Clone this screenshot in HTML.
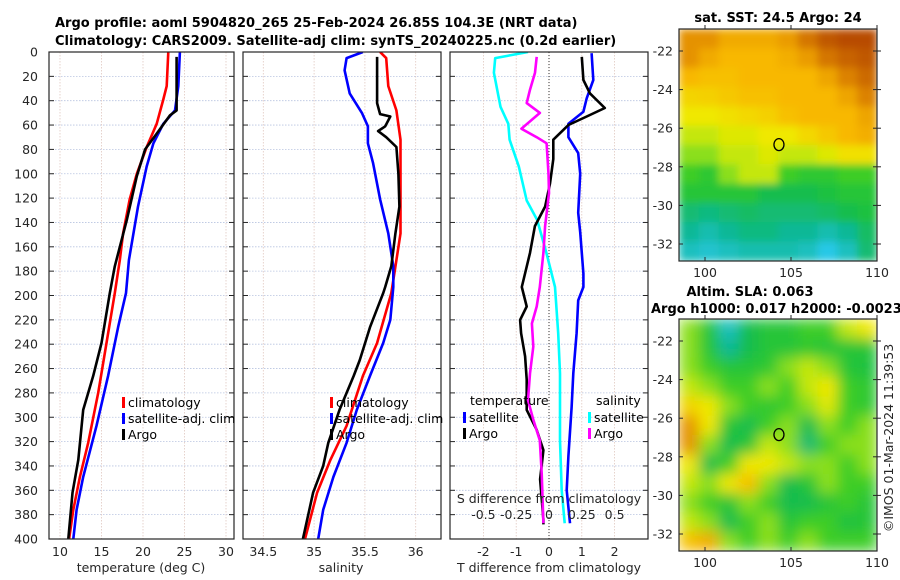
<!DOCTYPE html>
<html><head><meta charset="utf-8"><style>
html,body{margin:0;padding:0;background:#fff;}
svg{display:block;font-family:"DejaVu Sans","Liberation Sans",sans-serif;}
.tk{font-size:12.5px;fill:#262626;}
.ttl{font-size:13px;font-weight:bold;fill:#000;}
.lg{font-size:12.5px;fill:#000;}
</style></head><body>
<svg id="fig" width="900" height="580" viewBox="0 0 900 580">
<defs>
<clipPath id="cp1"><rect x="49" y="52" width="185" height="487"/></clipPath>
<clipPath id="cp2"><rect x="243" y="52" width="198" height="487"/></clipPath>
<clipPath id="cp3"><rect x="450" y="52" width="198" height="487"/></clipPath>
<clipPath id="cpm1"><rect x="679" y="29" width="198" height="232"/></clipPath>
<clipPath id="cpm2"><rect x="679" y="319" width="198" height="232"/></clipPath>
<filter id="bl1" x="0" y="0" width="1" height="1"><feGaussianBlur stdDeviation="4" edgeMode="duplicate"/></filter>
<filter id="bl2" x="0" y="0" width="1" height="1"><feGaussianBlur stdDeviation="7" edgeMode="duplicate"/></filter>
</defs>
<g id="root"></g>
<text class="ttl" x="55" y="27">Argo profile: aoml 5904820_265 25-Feb-2024 26.85S 104.3E (NRT data)</text>
<text class="ttl" x="55" y="45">Climatology: CARS2009. Satellite-adj clim: synTS_20240225.nc (0.2d earlier)</text>
<text class="ttl" x="778" y="22" text-anchor="middle">sat. SST: 24.5 Argo: 24</text>
<text class="ttl" x="750" y="296" text-anchor="middle">Altim. SLA: 0.063</text>
<text class="ttl" x="651" y="313">Argo h1000: 0.017 h2000: -0.0023</text>
<text class="tk" x="0" y="0" transform="translate(893,438) rotate(-90)" text-anchor="middle">©IMOS 01-Mar-2024 11:39:53</text>
</svg>
<script>
// ---- data ----
const depthTicks=[0,20,40,60,80,100,120,140,160,180,200,220,240,260,280,300,320,340,360,380,400];
const tempTicks=[10,15,20,25,30];
const salTicks=[34.5,35,35.5,36];
const tdiffTicks=[-2,-1,0,1,2];
const sdiffTicks=[-0.5,-0.25,0,0.25,0.5];
const sdiffTickLabels=["-0.5","-0.25","0","0.25","0.5"];

const tClimDepth=[0,28,39,59,78,100,121,149,171,198,239,280,321,349,376,400];
const tClim=[23.05,22.85,22.45,21.65,20.45,19.25,18.4,17.6,17.2,16.6,15.6,14.6,13.4,12.4,11.6,11.1];
const tSatDepth=[0,28,48,59,75,94,127,171,198,226,266,307,349,376,400];
const tSat=[24.45,24.25,23.85,22.45,21.25,20.45,19.4,18.3,17.95,17.0,15.8,14.4,12.8,12.0,11.6];
const tArgoDepth=[4,48,52,67,80,102,138,176,198,239,266,294,335,362,400];
const tArgo=[24.05,24.05,23.25,21.65,20.25,19.25,18.05,16.6,16.0,15.0,14.0,12.8,12.2,11.5,11.0];

const sClimDepth=[0,5,28,48,72,149,171,198,239,266,307,335,362,400];
const sClim=[35.65,35.71,35.73,35.81,35.85,35.85,35.81,35.76,35.62,35.48,35.32,35.16,35.03,34.91];
const sSatDepth=[0,5,15,34,50,61,75,91,121,149,176,193,220,239,266,294,321,349,376,400];
const sSat=[35.48,35.32,35.3,35.35,35.47,35.53,35.53,35.58,35.65,35.73,35.78,35.78,35.75,35.68,35.55,35.42,35.32,35.19,35.09,35.04];
const sArgoDepth=[4,42,51,53,61,65,70,78,100,127,149,176,193,198,226,253,266,294,321,340,362,400];
const sArgo=[35.62,35.62,35.65,35.75,35.70,35.63,35.71,35.81,35.83,35.84,35.80,35.76,35.70,35.68,35.55,35.45,35.39,35.25,35.14,35.09,34.99,34.89];

const dtArgoDepth=[4,23,34,46,53,60,72,88,108,127,143,165,193,209,220,231,250,269,294,310,327,351,384,388];
const dtArgo=[1.0,1.05,1.25,1.7,1.15,0.59,0.13,0.13,0.03,-0.12,-0.43,-0.58,-0.83,-0.68,-0.88,-0.85,-0.73,-0.68,-0.68,-0.38,-0.17,-0.27,-0.17,-0.17];
const dtSatDepth=[1,23,38,49,59,70,83,100,132,148,182,193,204,231,264,292,332,360,387];
const dtSat=[1.3,1.35,1.15,1.05,0.59,0.59,0.89,0.95,0.89,0.95,1.05,1.05,0.89,0.84,0.74,0.69,0.59,0.54,0.64];
const dsSatDepth=[0,5,17,45,59,72,94,122,138,165,193,231,264,319,360,387];
const dsSat=[-0.16,-0.41,-0.42,-0.37,-0.31,-0.30,-0.23,-0.17,-0.09,-0.02,0.046,0.07,0.084,0.084,0.097,0.12];
const dsArgoDepth=[4,17,31,42,50,63,70,75,100,116,143,165,193,209,223,242,264,286,302,319,346,387];
const dsArgo=[-0.094,-0.107,-0.145,-0.17,-0.069,-0.21,-0.094,-0.018,-0.004,0,-0.03,-0.043,-0.07,-0.094,-0.13,-0.12,-0.145,-0.16,-0.12,-0.07,-0.056,-0.043];

const lonTicks=[100,105,110];
const latTicks=[-22,-24,-26,-28,-30,-32];
const sstGrid=[
[0.8,0.8,0.75,0.75,0.75,0.78,0.85,0.9,0.92,0.92],
[0.8,0.75,0.72,0.72,0.72,0.74,0.78,0.85,0.88,0.9],
[0.72,0.7,0.7,0.72,0.72,0.72,0.72,0.76,0.83,0.87],
[0.65,0.66,0.68,0.7,0.7,0.72,0.72,0.72,0.76,0.83],
[0.6,0.6,0.62,0.64,0.66,0.7,0.72,0.72,0.72,0.76],
[0.55,0.55,0.58,0.58,0.6,0.6,0.64,0.68,0.72,0.74],
[0.5,0.5,0.55,0.55,0.58,0.55,0.55,0.58,0.62,0.62],
[0.45,0.42,0.5,0.55,0.55,0.45,0.42,0.42,0.45,0.45],
[0.4,0.4,0.4,0.4,0.35,0.35,0.35,0.38,0.4,0.4],
[0.3,0.28,0.3,0.32,0.3,0.3,0.3,0.32,0.35,0.38],
[0.25,0.22,0.25,0.28,0.28,0.25,0.25,0.22,0.25,0.32],
[0.2,0.18,0.2,0.22,0.22,0.22,0.2,0.15,0.2,0.3]];
const slaGrid=[
[0.5,0.4,0.2,0.35,0.4,0.4,0.45,0.45,0.55,0.6],
[0.5,0.4,0.25,0.35,0.4,0.4,0.42,0.4,0.4,0.4],
[0.5,0.45,0.4,0.4,0.42,0.5,0.55,0.5,0.4,0.38],
[0.55,0.5,0.45,0.45,0.5,0.45,0.55,0.6,0.45,0.42],
[0.65,0.6,0.5,0.45,0.42,0.45,0.5,0.58,0.45,0.42],
[0.8,0.6,0.4,0.35,0.45,0.5,0.35,0.5,0.45,0.5],
[0.8,0.5,0.35,0.4,0.55,0.5,0.3,0.45,0.5,0.5],
[0.6,0.35,0.45,0.6,0.6,0.55,0.5,0.5,0.45,0.5],
[0.55,0.5,0.6,0.7,0.5,0.35,0.4,0.5,0.45,0.45],
[0.5,0.45,0.4,0.5,0.45,0.35,0.35,0.4,0.45,0.4],
[0.55,0.5,0.35,0.45,0.5,0.4,0.45,0.45,0.38,0.4],
[0.7,0.75,0.5,0.45,0.5,0.45,0.5,0.45,0.45,0.45]];
const argoLon=104.3, argoLat=-26.85;

// ---- helpers ----
const NS="http://www.w3.org/2000/svg";
const root=document.getElementById('root');
function mk(tag,attrs,parent){const e=document.createElementNS(NS,tag);for(const k in attrs)e.setAttribute(k,attrs[k]);(parent||root).appendChild(e);return e;}
const yD=d=>52+d*1.2175;
const xT=v=>60+(v-10)*8.3;
const xS=v=>263.3+(v-34.5)*101.6;
const xDT=v=>549+v*32.8;
const xDS=v=>549+v*4*32.8;
const panels=[{x0:49,x1:234,cp:'cp1',name:'temperature-panel'},{x0:243,x1:441,cp:'cp2',name:'salinity-panel'},{x0:450,x1:648,cp:'cp3',name:'difference-panel'}];

function axesFrame(p,xticks,xf){
  const g=mk('g',{});
  
  
  depthTicks.forEach(d=>{mk('line',{x1:p.x0,x2:p.x1,y1:yD(d),y2:yD(d),stroke:'#b8c4e0','stroke-width':0.8,'stroke-dasharray':'1.5,1.5'},g);
    mk('line',{x1:p.x0,x2:p.x0+5,y1:yD(d),y2:yD(d),stroke:'#262626','stroke-width':1},g);
    mk('line',{x1:p.x1-5,x2:p.x1,y1:yD(d),y2:yD(d),stroke:'#262626','stroke-width':1},g);});
  xticks.forEach(v=>{mk('line',{x1:xf(v),x2:xf(v),y1:52,y2:539,stroke:'#e0c8c0','stroke-width':0.8,'stroke-dasharray':'1.5,1.5'},g);});
  return g;
}
function line(arrD,arrV,xf,color,name,cp){
  const pts=arrD.map((d,i)=>xf(arrV[i]).toFixed(1)+','+yD(d).toFixed(1)).join(' ');
  const e=mk('polyline',{points:pts,fill:'none',stroke:color,'stroke-width':2.6,'stroke-linejoin':'round','clip-path':'url(#'+cp+')'});
  
  
}
function border(p){mk('rect',{x:p.x0,y:52,width:p.x1-p.x0,height:487,fill:'none',stroke:'#262626','stroke-width':1.2});}
function txt(s,x,y,cls,anchor,name){const e=mk('text',{x:x,y:y,class:cls,'text-anchor':anchor||'start'});e.textContent=s;return e;}
function legend(x,y,items){items.forEach((it,i)=>{mk('rect',{x:x,y:y+i*16-6,width:3,height:11,fill:it[1]});txt(it[0],x+6,y+i*16+4,'lg','start','legend-entry');});}

// ---- panel 1 ----
axesFrame(panels[0],tempTicks,xT);
line(tClimDepth,tClim,xT,'#ff0000','temp-climatology-line','cp1');
line(tSatDepth,tSat,xT,'#0000ff','temp-satellite-line','cp1');
line(tArgoDepth,tArgo,xT,'#000000','temp-argo-line','cp1');
border(panels[0]);
depthTicks.forEach(d=>txt(String(d),38,yD(d)+4.5,'tk','end','depth-tick-label'));
tempTicks.forEach(v=>txt(String(v),xT(v),556,'tk','middle','temp-tick-label'));
txt('temperature (deg C)',141,572,'tk','middle','temp-x-axis-title');
legend(122,403,[['climatology','#ff0000'],['satellite-adj. clim','#0000ff'],['Argo','#000000']]);

// ---- panel 2 ----
axesFrame(panels[1],salTicks,xS);
line(sClimDepth,sClim,xS,'#ff0000','sal-climatology-line','cp2');
line(sSatDepth,sSat,xS,'#0000ff','sal-satellite-line','cp2');
line(sArgoDepth,sArgo,xS,'#000000','sal-argo-line','cp2');
border(panels[1]);
salTicks.forEach(v=>txt(String(v),xS(v),556,'tk','middle','sal-tick-label'));
txt('salinity',341,572,'tk','middle','sal-x-axis-title');
legend(330,403,[['climatology','#ff0000'],['satellite-adj. clim','#0000ff'],['Argo','#000000']]);

// ---- panel 3 ----
axesFrame(panels[2],tdiffTicks,xDT);
mk('line',{x1:549,x2:549,y1:52,y2:539,stroke:'#333','stroke-width':1,'stroke-dasharray':'1,2'});
line(dsSatDepth,dsSat,xDS,'#00ffff','sdiff-satellite-line','cp3');
line(dtSatDepth,dtSat,xDT,'#0000ff','tdiff-satellite-line','cp3');
line(dtArgoDepth,dtArgo,xDT,'#000000','tdiff-argo-line','cp3');
line(dsArgoDepth,dsArgo,xDS,'#ff00ff','sdiff-argo-line','cp3');
border(panels[2]);
tdiffTicks.forEach(v=>txt(String(v),xDT(v),556,'tk','middle','tdiff-tick-label'));
txt('T difference from climatology',549,572,'tk','middle','tdiff-x-axis-title');
txt('S difference from climatology',549,503,'tk','middle','sdiff-axis-title');
sdiffTicks.forEach((v,i)=>txt(sdiffTickLabels[i],xDS(v),519,'tk','middle','sdiff-tick-label'));
txt('temperature',470,405,'lg','start','legend-title-temperature');
txt('salinity',596,405,'lg','start','legend-title-salinity');
legend(463,418,[['satellite','#0000ff'],['Argo','#000000']]);
legend(588,418,[['satellite','#00ffff'],['Argo','#ff00ff']]);

// ---- maps ----
const stops=[[0,[0,80,230]],[0.15,[40,200,230]],[0.25,[16,184,150]],[0.36,[20,190,70]],[0.45,[60,205,40]],[0.52,[170,230,20]],[0.6,[240,232,0]],[0.72,[248,184,0]],[0.82,[224,136,0]],[0.92,[184,76,0]],[1,[160,50,0]]];
function cmap(v){for(let i=1;i<stops.length;i++){if(v<=stops[i][0]){const a=stops[i-1],b=stops[i],t=(v-a[0])/(b[0]-a[0]);return 'rgb('+a[1].map((c,k)=>Math.round(c+(b[1][k]-c)*t)).join(',')+')';}}return 'rgb(160,50,0)';}
function drawMap(grid,y0,cp,filt,name){
  const x0=679,w=198,h=232,rows=grid.length,cols=grid[0].length;
  const xL=lon=>705+(lon-100)*17.2;
  const yL=lat=>y0+22+(-22-lat)*19.3;
  const gw=mk('g',{'clip-path':'url(#'+cp+')'});
  
  
  const g=mk('g',{filter:'url(#'+filt+')'},gw);
  grid.forEach((row,r)=>row.forEach((v,c)=>{
    const cell=mk('rect',{x:x0+c*w/cols,y:y0+r*h/rows,width:w/cols+0.5,height:h/rows+0.5,fill:cmap(v)},g);
    
    
  }));
  mk('rect',{x:x0,y:y0,width:w,height:h,fill:'none',stroke:'#262626','stroke-width':1.2});
  const c=mk('ellipse',{cx:xL(argoLon),cy:yL(argoLat),rx:5,ry:6,fill:'none',stroke:'#000','stroke-width':1.3});
  
  
  latTicks.forEach(t=>{const y=yL(t);
    mk('line',{x1:x0,x2:x0+4,y1:y,y2:y,stroke:'#262626'});mk('line',{x1:x0+w-4,x2:x0+w,y1:y,y2:y,stroke:'#262626'});
    mk('line',{x1:x0+w,x2:x0+w+4,y1:y,y2:y,stroke:'#262626'});
    txt(String(t),673,y+4.5,'tk','end','lat-tick-label');});
  lonTicks.forEach(t=>{const x=xL(t);
    mk('line',{x1:x,x2:x,y1:y0+h,y2:y0+h-4,stroke:'#262626'});mk('line',{x1:x,x2:x,y1:y0,y2:y0-4,stroke:'#262626'});
    txt(String(t),x,y0+h+16,'tk','middle','lon-tick-label');});
}
drawMap(sstGrid,29,'cpm1','bl1','sst-map');
drawMap(slaGrid,319,'cpm2','bl2','sla-map');
</script>
</body></html>
